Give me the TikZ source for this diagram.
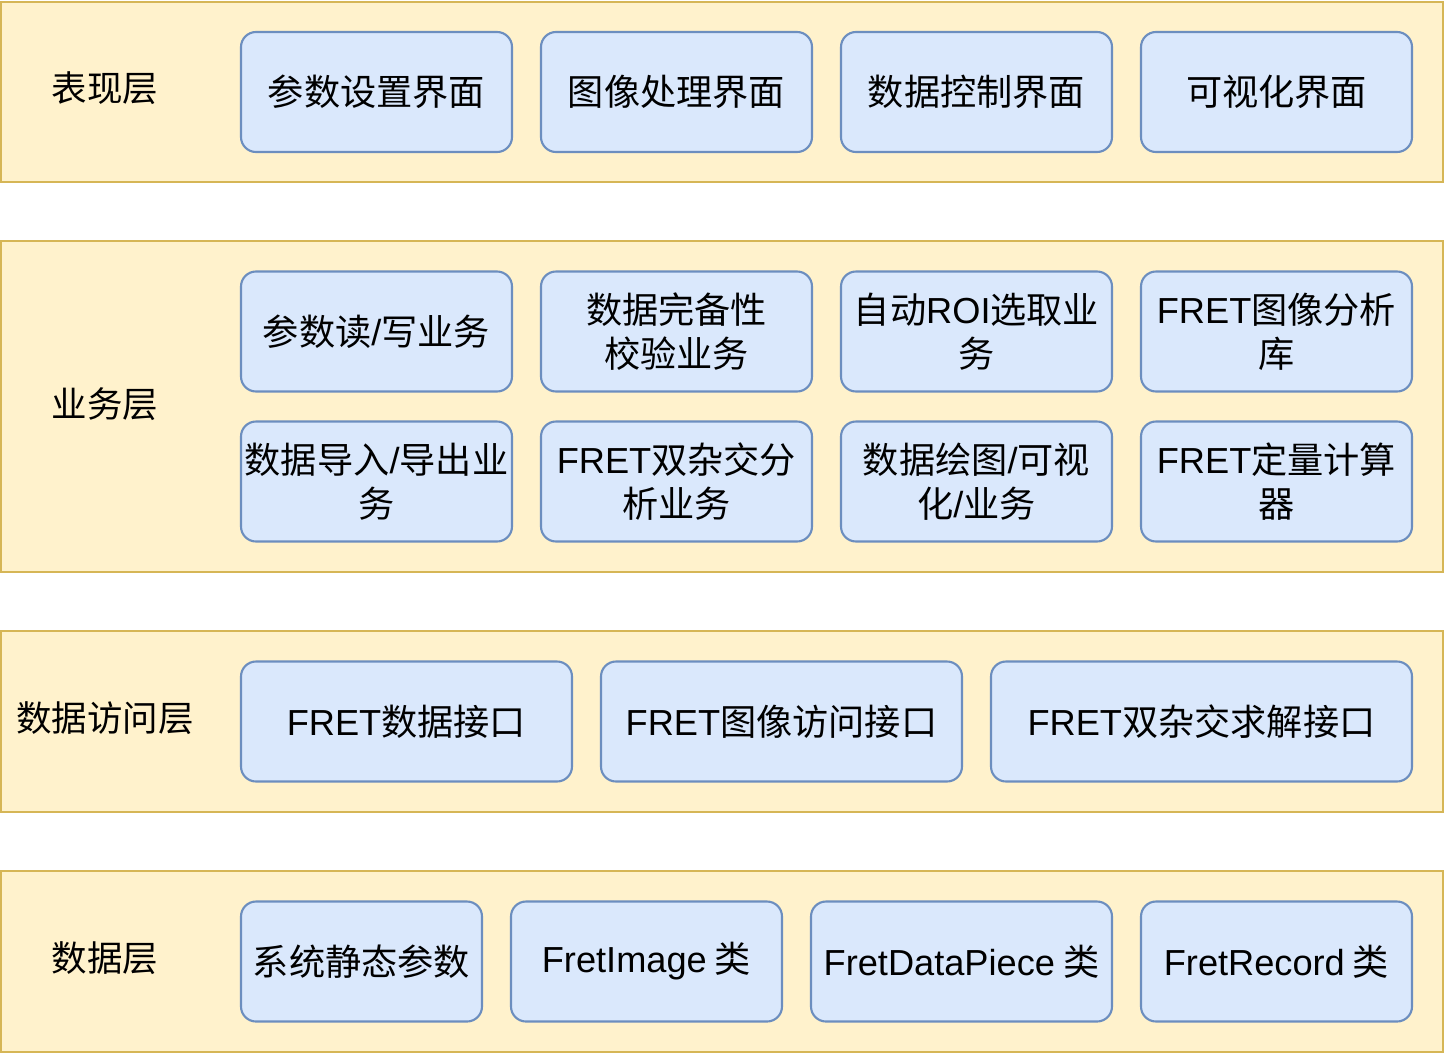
\documentclass[tikz,border=0pt]{standalone}
\usepackage{fontspec}
\setmainfont{Noto Sans CJK SC}
\newfontfamily\lat{Liberation Sans}
\usepackage{tikz}
\definecolor{layerfill}{HTML}{FFF2CC}
\definecolor{layerline}{HTML}{D6B656}
\definecolor{modfill}{HTML}{DAE8FC}
\definecolor{modline}{HTML}{6C8EBF}

\begin{document}
\begin{tikzpicture}[
    layer/.style={draw=layerline,fill=layerfill,line width=1.2pt,minimum width=28.84cm},
    mod/.style={draw=modline,fill=modfill,line width=1.2pt,rounded corners=0.3cm,
      minimum height=2.4cm,minimum width=5.42cm,align=center,inner sep=1pt,
      font=\fontsize{20.6}{25}\selectfont},
    title/.style={font=\fontsize{20.2}{25}\selectfont}]
        \useasboundingbox (0,0) rectangle (28.92,-21.12);
        % layers
        \node [layer,minimum height=3.6cm] (pres) at (14.44,-1.84) {};
        \node [layer,minimum height=6.62cm] (biz) at (14.44,-8.13) {};
        \node [layer,minimum height=3.62cm] (dal) at (14.44,-14.43) {};
        \node [layer,minimum height=3.62cm] (data) at (14.44,-19.23) {};

        \node [title] (presl) at (2.1,-1.76) {表现层};
        \node [title] (bizl) at (2.1,-8.08) {业务层};
        \node [title] (dall) at (2.1,-14.36) {数据访问层};
        \node [title] (datal) at (2.1,-19.16) {数据层};

        % presentation layer
        \node [mod] (p1) at (7.53,-1.84) {参数设置界面};
        \node [mod] (p2) at (13.53,-1.84) {图像处理界面};
        \node [mod] (p3) at (19.53,-1.84) {数据控制界面};
        \node [mod] (p4) at (25.53,-1.84) {可视化界面};

        % business layer
        \node [mod] (b1) at (7.53,-6.63) {参数读{\lat /}写业务};
        \node [mod] (b2) at (13.53,-6.63) {数据完备性\\校验业务};
        \node [mod] (b3) at (19.53,-6.63) {自动{\lat ROI}选取业\\务};
        \node [mod] (b4) at (25.53,-6.63) {{\lat FRET}图像分析\\库};
        \node [mod] (b5) at (7.53,-9.63) {数据导入{\lat /}导出业\\务};
        \node [mod] (b6) at (13.53,-9.63) {{\lat FRET}双杂交分\\析业务};
        \node [mod] (b7) at (19.53,-9.63) {数据绘图{\lat /}可视\\化{\lat /}业务};
        \node [mod] (b8) at (25.53,-9.63) {{\lat FRET}定量计算\\器};

        % data access layer
        \node [mod,minimum width=6.62cm] (d1) at (8.13,-14.43) {{\lat FRET}数据接口};
        \node [mod,minimum width=7.22cm] (d2) at (15.63,-14.43) {{\lat FRET}图像访问接口};
        \node [mod,minimum width=8.42cm] (d3) at (24.03,-14.43) {{\lat FRET}双杂交求解接口};

        % data layer
        \node [mod,minimum width=4.82cm] (s1) at (7.23,-19.23) {系统静态参数};
        \node [mod] (s2) at (12.93,-19.23) {{\lat FretImage} 类};
        \node [mod,minimum width=6.02cm] (s3) at (19.23,-19.23) {{\lat FretDataPiece} 类};
        \node [mod] (s4) at (25.53,-19.23) {{\lat FretRecord} 类};
    \end{tikzpicture}
\end{document}
